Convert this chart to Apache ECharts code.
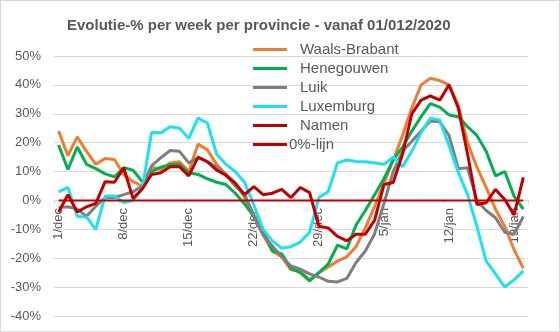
<!DOCTYPE html>
<html>
<head>
<meta charset="utf-8">
<script src="https://cdn.jsdelivr.net/npm/echarts@6/dist/echarts.min.js"></script>
<style>
html,body{margin:0;padding:0;background:#fff;}
#chart{width:560px;height:332px;box-sizing:border-box;border:1px solid #d9d9d9;}
</style>
</head>
<body>
<div id="chart"></div>
<script>
const categories = [
  '1/dec','2/dec','3/dec','4/dec','5/dec','6/dec','7/dec','8/dec','9/dec','10/dec',
  '11/dec','12/dec','13/dec','14/dec','15/dec','16/dec','17/dec','18/dec','19/dec','20/dec',
  '21/dec','22/dec','23/dec','24/dec','25/dec','26/dec','27/dec','28/dec','29/dec','30/dec',
  '31/dec','1/jan','2/jan','3/jan','4/jan','5/jan','6/jan','7/jan','8/jan','9/jan',
  '10/jan','11/jan','12/jan','13/jan','14/jan','15/jan','16/jan','17/jan','18/jan','19/jan','20/jan'
];
const waalsBrabant = [24,15.5,22,17,12.5,14.5,14.2,9,6.5,5,11.5,10.7,13,13.4,10,19.5,17.5,12.5,9,6,1,
  -5.5,-12,-17.5,-19.5,-24,-24.5,-27.5,-25,-23,-21,-19.5,-16,-9.5,-2,6,14,22.5,32,40,42.3,41.5,40,33,20,11.5,4.5,-3,-9,-17,-23.5];
const henegouwen = [19.2,10.7,18.5,12.5,11,9.2,8.2,11.3,10.5,6.5,10,11.5,12.4,12.4,9.6,9,7.5,6.3,5.5,2.5,-1.2,
  -5.5,-10.5,-17.5,-18.5,-23.5,-25,-27.8,-25,-22,-15.5,-16.8,-8.5,-3.5,2,7.5,14,18.5,24,29,33.5,32.3,29.6,29,25.5,22.5,17,8.5,10,1.5,-3];
const luik = [-2.4,-2.2,-3,-5.5,-2,1,1,2,3,5,12,14.8,17.3,17,13,14.8,13.4,11.5,9,5,2,
  -5,-12,-15.8,-19.5,-22.7,-23.8,-25.4,-26.5,-28,-28.2,-27,-21.5,-17.5,-11.5,-1,10,17,20.5,24,27.5,27.2,22.5,11,11.3,0,-3.5,-6,-11,-11.7,-5.5];
const luxemburg = [3,4.5,-5.5,-5.8,-10,1.5,1.5,-0.7,0,4,23.5,23.4,25.5,25,21.5,28.5,26.8,16,12.5,10,6.3,
  -1.5,-10,-14,-16.5,-16,-14.4,-11,1,3,13,14,13.5,13.4,13,12.5,15,11.7,17,23.5,28.5,27.8,19,9.7,2,-9,-21,-25.4,-30,-27.5,-24.4];
const namen = [-4,2,-4,-2.2,-1,6.5,6.3,11.3,0.7,4,9,9.6,11.7,11.7,8.5,15,13.4,10.5,8.7,6,2,
  4.8,2,2.5,3.8,1,4.5,2.7,-9,-9.5,-12.4,-14,-11.7,-11.7,-6.8,5.5,6.2,16,30,34.7,36.2,34.7,40,32,16,-1.4,-0.8,3.8,0.3,-5,8];
const nulLijn = categories.map(() => 0);

const yTicks = { min: -40, max: 50, interval: 10 };

const font = 'Liberation Sans';
const txt = '#595959';
const chart = echarts.init(document.getElementById('chart'));

function line(name, data, color, width) {
  return { name, type: 'line', data, symbol: 'none', showSymbol: false,
    lineStyle: { color, width }, itemStyle: { color }, animation: false };
}

const gridTop = 55, gridBottom = 15, gridH = 332 - gridTop - gridBottom;
const zeroOffset = -Math.round(gridH * (0 - yTicks.min) / (yTicks.max - yTicks.min));

chart.setOption({
  animation: false,
  textStyle: { fontFamily: font },
  title: {
    text: 'Evolutie-% per week per provincie - vanaf 01/012/2020',
    left: 66, top: 17, padding: 0,
    textStyle: { fontFamily: font, fontSize: 15, fontWeight: 'bold', color: txt }
  },
  legend: {
    orient: 'vertical', left: 252, top: 41, padding: 0,
    icon: 'rect', itemWidth: 34, itemHeight: 3, itemGap: 4,
    textStyle: { fontFamily: font, fontSize: 15, color: txt, lineHeight: 15, padding: [0, 0, 0, 8] },
    data: ['Waals-Brabant', 'Henegouwen', 'Luik', 'Luxemburg', 'Namen',
      { name: '0%-lijn', textStyle: { padding: [0, 0, 0, -3] } }]
  },
  grid: { left: 53, right: 31, top: gridTop, bottom: gridBottom, containLabel: false, outerBoundsMode: 'none' },
  xAxis: {
    type: 'category', data: categories, boundaryGap: true,
    position: 'bottom', offset: zeroOffset,
    axisLine: { show: false, onZero: false },
    axisTick: { show: true, interval: 6, length: 4, lineStyle: { color: '#d9d9d9' } },
    axisLabel: { interval: 6, rotate: 90, margin: 8, fontFamily: font, fontSize: 13, color: txt },
    splitLine: { show: false }
  },
  yAxis: {
    type: 'value', min: yTicks.min, max: yTicks.max, interval: yTicks.interval,
    axisLine: { show: false }, axisTick: { show: false },
    axisLabel: { formatter: '{value}%', margin: 13, fontFamily: font, fontSize: 13, color: txt },
    splitLine: { lineStyle: { color: '#d9d9d9', width: 1 } }
  },
  series: [
    line('Waals-Brabant', waalsBrabant, '#ED7D31', 3),
    line('Henegouwen', henegouwen, '#00B050', 3),
    line('Luik', luik, '#7F7F7F', 3),
    line('Luxemburg', luxemburg, '#1CE1F0', 3),
    line('Namen', namen, '#C00000', 3),
    line('0%-lijn', nulLijn, '#C00000', 2)
  ]
});
</script>
</body>
</html>
